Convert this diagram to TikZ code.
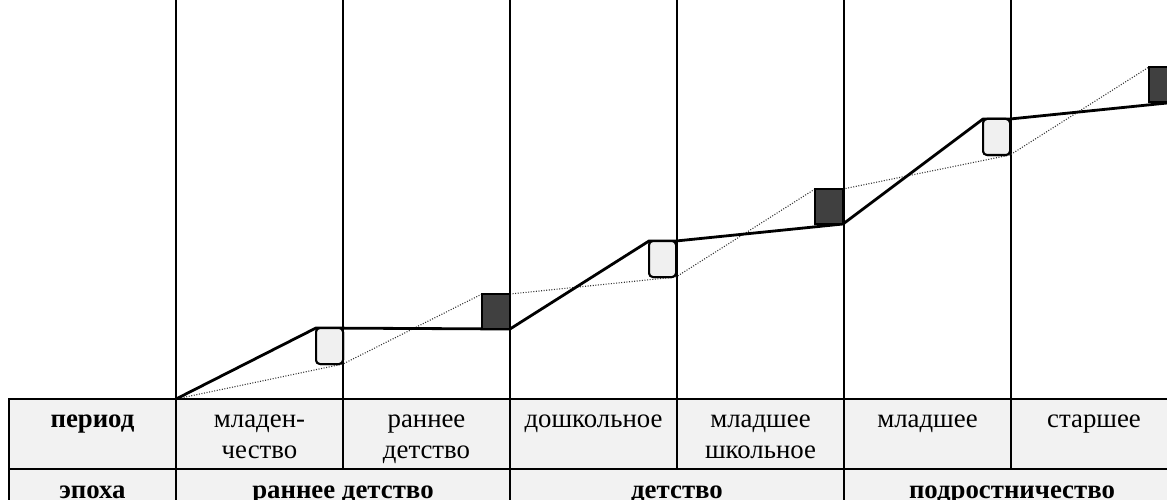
\documentclass[tikz,border=0pt]{standalone}
\usepackage{fontspec}
\setmainfont{Liberation Serif}
\newcommand{\celltext}[1]{\begin{tabular}[t]{@{}c@{}}#1\end{tabular}}
\begin{document}
\begin{tikzpicture}[x=1pt,y=-1pt,
  grid/.style={line width=2pt},
  trend/.style={line width=2.8pt, line join=round},
  shadow/.style={line width=1.1pt, black!80, dash pattern=on 1pt off 1.6pt},
  lightbox/.style={draw, line width=2pt, fill=gray!12, rounded corners=4pt,
    minimum width=27pt, minimum height=36pt, inner sep=0pt, outer sep=0pt, anchor=north west},
  darkbox/.style={draw, line width=2pt, fill=black!75, minimum width=28pt,
    minimum height=35pt, inner sep=0pt, outer sep=0pt, anchor=north west},
  lbl/.style={anchor=base, inner sep=0pt, font=\fontsize{26.8}{31}\selectfont},
  head/.style={lbl, font=\fontsize{26.8}{31}\selectfont\bfseries}]
\useasboundingbox (0,0) rectangle (1167,500);
\clip (0,0) rectangle (1167,500);

% table body
\fill[gray!10] (9,399) rectangle (1180,540);
\draw[grid] (9,540) -- (9,399) -- (1180,399);
\draw[grid] (9,469) -- (1180,469);

% age boundaries, running down into the table
\foreach \x/\b in {176/540, 343/469, 510/540, 677/469, 844/540, 1011/469}
  \draw[grid] (\x,0) -- (\x,\b);

% start of the curve
\coordinate (O) at (176,399);

% transition markers
\node[lightbox] (L1) at (316,328) {};
\node[lightbox] (L2) at (649,241) {};
\node[lightbox] (L3) at (983,119) {};
\node[darkbox]  (D1) at (482,294) {};
\node[darkbox]  (D2) at (815,189) {};
\node[darkbox]  (D3) at (1149,67) {};

% thin dotted line through the opposite corners
\draw[shadow] (O) -- (L1.south east) -- (D1.north west);
\draw[shadow] (D1.north east) -- (L2.south east) -- (D2.north west);
\draw[shadow] (D2.north east) -- (L3.south east) -- (D3.north west);

% main development line
\draw[trend] (O) -- (L1.north west) -- (D1.south east) -- (L2.north west)
  -- (L2.north east) -- (D2.south east) -- (L3.north west) -- (L3.north east)
  -- (D3.south east);

% redraw markers above the lines
\node[lightbox] at (316,328) {};
\node[lightbox] at (649,241) {};
\node[lightbox] at (983,119) {};
\node[darkbox]  at (482,294) {};
\node[darkbox]  at (815,189) {};
\node[darkbox]  at (1149,67) {};

% period row
\node[head] (hp) at (92.5,427) {период};
\node[lbl] (p1) at (259.5,427) {\celltext{младен-\\чество}};
\node[lbl] (p2) at (426.5,427) {\celltext{раннее\\детство}};
\node[lbl] (p3) at (593.5,427) {дошкольное};
\node[lbl] (p4) at (760.5,427) {\celltext{младшее\\школьное}};
\node[lbl] (p5) at (927.5,427) {младшее};
\node[lbl] (p6) at (1094,427) {старшее};

% epoch row
\node[head] (he) at (92.5,498.5) {эпоха};
\node[head] (e1) at (343,498.5) {раннее детство};
\node[head] (e2) at (677,498.5) {детство};
\node[head] (e3) at (1012,498.5) {подростничество};
\end{tikzpicture}
\end{document}
